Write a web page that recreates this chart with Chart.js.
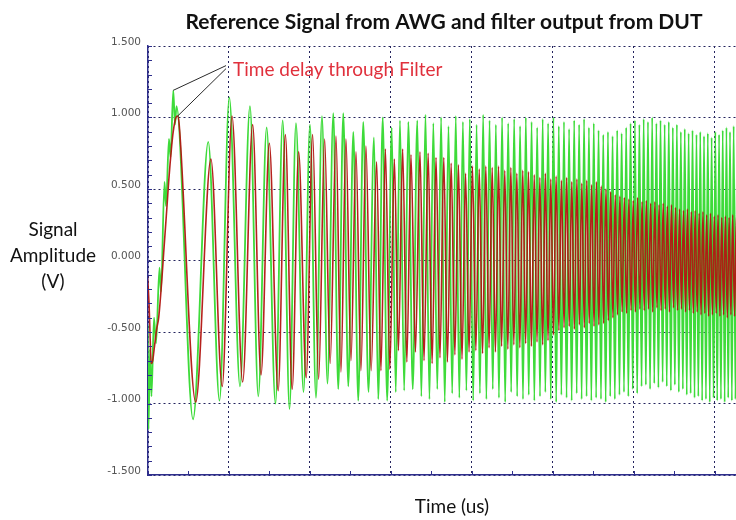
<!DOCTYPE html>
<html>
<head>
<meta charset="utf-8">
<title>Reference Signal from AWG and filter output from DUT</title>
<script src="https://cdn.jsdelivr.net/npm/chart.js@4.4.0/dist/chart.umd.min.js"></script>
<style>
  html, body { margin: 0; padding: 0; background: #fff; }
</style>
</head>
<body>
<canvas id="myChart" width="736" height="520"></canvas>
<script>
const chartTitle = "Reference Signal from AWG and filter output from DUT";
const xTitle = "Time (us)";
const yTitleLines = ["Signal", "Amplitude", "(V)"];
const noteText = "Time delay through Filter";

// times (us) of the turning points of the reference signal
const peakTimes = [
  -0.060, -0.020, -0.006, 0.006, 0.025, 0.043, 0.074, 0.099, 0.142, 0.160,
  0.204, 0.222, 0.259, 0.278, 0.312, 0.333, 0.352,
  0.556, 0.744, 0.883, 1.004, 1.136, 1.259, 1.362, 1.465, 1.574, 1.663,
  1.747, 1.827, 1.920, 2.000, 2.074, 2.148, 2.216, 2.288, 2.349, 2.411,
  2.473, 2.535, 2.596, 2.658, 2.722, 2.790, 2.843, 2.898, 2.953, 3.009,
  3.059, 3.111, 3.163, 3.214, 3.269, 3.325,
  3.375, 3.426, 3.475, 3.523, 3.572, 3.619, 3.664, 3.710, 3.756, 3.800,
  3.844, 3.888, 3.931, 3.973, 4.015, 4.057, 4.098, 4.138, 4.178, 4.217,
  4.257, 4.295, 4.333, 4.372, 4.410, 4.447, 4.484, 4.521, 4.558, 4.594,
  4.630, 4.665, 4.701, 4.736, 4.770, 4.805, 4.840, 4.873, 4.906, 4.940,
  4.973, 5.006, 5.040, 5.072, 5.104, 5.136, 5.168, 5.199, 5.231, 5.262,
  5.293, 5.323, 5.354, 5.384, 5.415, 5.444, 5.474, 5.504, 5.533, 5.563,
  5.593, 5.621, 5.651, 5.679, 5.707, 5.736, 5.764, 5.793, 5.821, 5.848,
  5.877, 5.904, 5.931, 5.958, 5.985, 6.012, 6.040, 6.067, 6.094, 6.120,
  6.147, 6.173, 6.199, 6.225, 6.251, 6.277, 6.302, 6.328, 6.354, 6.379,
  6.405, 6.430, 6.456, 6.480, 6.505, 6.530, 6.554, 6.579, 6.604, 6.627,
  6.652, 6.675, 6.700, 6.723, 6.748, 6.772, 6.795, 6.819, 6.842, 6.865,
  6.889, 6.912, 6.936, 6.959, 6.983, 7.005, 7.028, 7.051, 7.074, 7.096,
  7.120, 7.142, 7.164, 7.186, 7.209, 7.231, 7.253, 7.275, 7.298
];

// reference signal from the AWG (V)
const refLevels = [
  -0.10, -0.25, -0.45, -1.18, -0.62, -0.95, -0.40, -0.58, -0.05, -0.22,
  0.55, 0.38, 0.85, 0.72, 1.19, 0.95, 1.08,
  -1.11, 0.83, -0.98, 1.14, -0.88, 1.08, -0.95, 0.93, -1.00, 0.98,
  -1.04, 0.96, -0.92, 0.95, -0.96, 1.01, -0.86, 1.03, -0.90, 1.03,
  -0.88, 0.90, -0.98, 0.97, -0.92, 0.86, -0.97, 1.00, -0.98, 0.93,
  -0.92, 0.98, -0.91, 0.97, -0.90, 0.98,
  -0.95, 1.02, -0.97, 0.96, -0.90, 1.00, -0.99, 0.94, -0.93, 1.01,
  -0.96, 0.97, -0.91, 0.99, -0.98, 0.95, -0.93, 1.02, -0.97, 0.98,
  -0.90, 0.95, -0.96, 1.00, -0.99, 0.96, -0.92, 0.99, -0.95, 0.94,
  -0.97, 1.00, -0.94, 0.97, -0.98, 0.93, -0.95, 0.99, -0.92, 0.96,
  -0.97, 1.00, -0.99, 0.94, -0.94, 0.97, -0.96, 0.92, -0.98, 0.98,
  -0.93, 0.95, -0.97, 0.99, -0.95, 0.93, -0.98, 0.96, -0.96, 0.91,
  -0.97, 0.88, -0.99, 0.90, -0.95, 0.87, -0.97, 0.91, -0.94, 0.89,
  -0.92, 0.93, -0.95, 0.96, -0.90, 0.98, -0.93, 0.95, -0.88, 0.99,
  -0.87, 0.97, -0.90, 1.00, -0.86, 0.96, -0.89, 0.98, -0.85, 0.95,
  -0.88, 0.97, -0.91, 0.93, -0.87, 0.95, -0.92, 0.90, -0.90, 0.92,
  -0.94, 0.89, -0.93, 0.91, -0.96, 0.88, -0.95, 0.90, -0.98, 0.87,
  -0.97, 0.89, -0.99, 0.86, -0.96, 0.90, -0.98, 0.88, -0.97, 0.91,
  -0.99, 0.93, -0.96, 0.90, -0.98, 0.94, -0.97, 0.92, -0.96
];

// filter output from the DUT (V), same turning points, delayed
const outLevels = [
  0.02, -0.30, -0.55, -0.72, -0.70, -0.62, -0.48, -0.40, -0.10, 0.05,
  0.40, 0.55, 0.80, 0.90, 1.00, 1.01, 0.95,
  -0.99, 0.71, -0.88, 1.01, -0.85, 0.95, -0.80, 0.82, -0.91, 0.88,
  -0.90, 0.76, -0.82, 0.88, -0.83, 0.85, -0.72, 0.87, -0.78, 0.85,
  -0.70, 0.76, -0.77, 0.80, -0.77, 0.69, -0.77, 0.78, -0.76, 0.71,
  -0.63, 0.78, -0.71, 0.74, -0.64, 0.76,
  -0.70, 0.75, -0.72, 0.72, -0.68, 0.72, -0.71, 0.68, -0.66, 0.67,
  -0.69, 0.61, -0.64, 0.66, -0.63, 0.64, -0.65, 0.66, -0.61, 0.65,
  -0.64, 0.66, -0.60, 0.63, -0.62, 0.65, -0.59, 0.61, -0.61, 0.63,
  -0.58, 0.62, -0.60, 0.60, -0.57, 0.58, -0.59, 0.61, -0.56, 0.57,
  -0.52, 0.59, -0.49, 0.56, -0.47, 0.58, -0.46, 0.55, -0.48, 0.57,
  -0.45, 0.54, -0.47, 0.56, -0.44, 0.53, -0.46, 0.55, -0.45, 0.52,
  -0.44, 0.50, -0.42, 0.48, -0.40, 0.46, -0.38, 0.45, -0.36, 0.44,
  -0.37, 0.43, -0.35, 0.42, -0.36, 0.44, -0.34, 0.41, -0.35, 0.42,
  -0.34, 0.40, -0.36, 0.41, -0.33, 0.39, -0.35, 0.40, -0.34, 0.38,
  -0.36, 0.39, -0.33, 0.37, -0.35, 0.36, -0.34, 0.35, -0.36, 0.36,
  -0.35, 0.34, -0.37, 0.35, -0.36, 0.33, -0.38, 0.34, -0.37, 0.32,
  -0.39, 0.33, -0.38, 0.31, -0.37, 0.32, -0.39, 0.30, -0.38, 0.31,
  -0.40, 0.30, -0.38, 0.32, -0.39, 0.31, -0.38, 0.30, -0.38
];

const filterDelay = 0.033; // us

const axisColor = "#2e2e8c";
const gridColor = "#24245e";
const textFont = "Lato, 'Open Sans', sans-serif";

const refPoints = peakTimes.map((t, i) => ({ x: t, y: refLevels[i] }));
const outPoints = peakTimes.map((t, i) => ({ x: t + filterDelay, y: outLevels[i] }));

const decorations = {
  id: "decorations",
  afterDraw(chart) {
    const { ctx, chartArea, scales: { x, y } } = chart;
    ctx.save();

    // small inner ticks
    ctx.strokeStyle = axisColor;
    ctx.lineWidth = 1;
    ctx.beginPath();
    for (let i = -15; i <= 15; i++) {
      const py = Math.round(y.getPixelForValue(i / 10)) + 0.5;
      ctx.moveTo(chartArea.left, py);
      ctx.lineTo(chartArea.left + 4, py);
    }
    for (let i = 0; i <= 14; i++) {
      const px = Math.round(x.getPixelForValue(i / 2)) + 0.5;
      ctx.moveTo(px, chartArea.bottom);
      ctx.lineTo(px, chartArea.bottom - 4);
    }
    ctx.stroke();

    // annotation pointing at the first peaks
    const iRef = refLevels.indexOf(Math.max(...refLevels));
    const iOut = outLevels.indexOf(Math.max(...outLevels));
    const noteX = x.getPixelForValue(1.05);
    const noteY = y.getPixelForValue(1.335);
    ctx.strokeStyle = "#2a2a2a";
    ctx.beginPath();
    ctx.moveTo(noteX - 7, noteY - 4);
    ctx.lineTo(x.getPixelForValue(peakTimes[iRef]), y.getPixelForValue(refLevels[iRef]));
    ctx.moveTo(noteX - 7, noteY - 1);
    ctx.lineTo(x.getPixelForValue(peakTimes[iOut] + filterDelay), y.getPixelForValue(outLevels[iOut]));
    ctx.stroke();

    ctx.fillStyle = "#e0303c";
    ctx.font = "19px " + textFont;
    ctx.textAlign = "left";
    ctx.textBaseline = "middle";
    ctx.fillText(noteText, noteX, noteY);

    // titles
    ctx.fillStyle = "#111";
    ctx.textAlign = "center";
    ctx.font = "bold 21px " + textFont;
    ctx.fillText(chartTitle, 444, 22);
    ctx.font = "19px " + textFont;
    ctx.fillText(xTitle, 452, 507);
    yTitleLines.forEach((line, i) => ctx.fillText(line, 53, 230 + i * 26));

    ctx.restore();
  }
};

const config = {
  type: "line",
  data: {
    datasets: [
      {
        label: "Filter output from DUT",
        data: outPoints,
        borderColor: "rgba(178, 22, 18, 0.95)",
        borderWidth: 1.6,
        pointRadius: 0,
        cubicInterpolationMode: "monotone",
        order: 1
      },
      {
        label: "Reference signal from AWG",
        data: refPoints,
        borderColor: "#3edb3a",
        borderWidth: 1.8,
        pointRadius: 0,
        cubicInterpolationMode: "monotone",
        order: 2
      }
    ]
  },
  options: {
    responsive: false,
    animation: false,
    layout: { padding: { top: 46, right: 0, bottom: 45, left: 0 } },
    plugins: {
      legend: { display: false },
      tooltip: { enabled: false },
      title: { display: false }
    },
    scales: {
      x: {
        type: "linear",
        min: 0,
        max: 7.26,
        z: 1,
        ticks: { display: false, stepSize: 1, includeBounds: false },
        grid: { color: gridColor, lineWidth: 1, drawTicks: false },
        border: { display: true, color: axisColor, width: 1.5, dash: [2, 3] },
        afterFit: (scale) => { scale.height = 0; }
      },
      y: {
        type: "linear",
        min: -1.5,
        max: 1.5,
        z: 1,
        ticks: {
          stepSize: 0.5,
          padding: 7,
          labelOffset: -4,
          color: "#555",
          font: { family: "'DejaVu Sans', sans-serif", size: 10.5 },
          callback: (v) => v.toFixed(3)
        },
        grid: { color: gridColor, lineWidth: 1, drawTicks: false },
        border: { display: true, color: axisColor, width: 1.5, dash: [2, 3] },
        afterFit: (scale) => { scale.width = 148; }
      }
    }
  },
  plugins: [decorations]
};

const myChart = new Chart(document.getElementById("myChart"), config);
</script>
</body>
</html>
